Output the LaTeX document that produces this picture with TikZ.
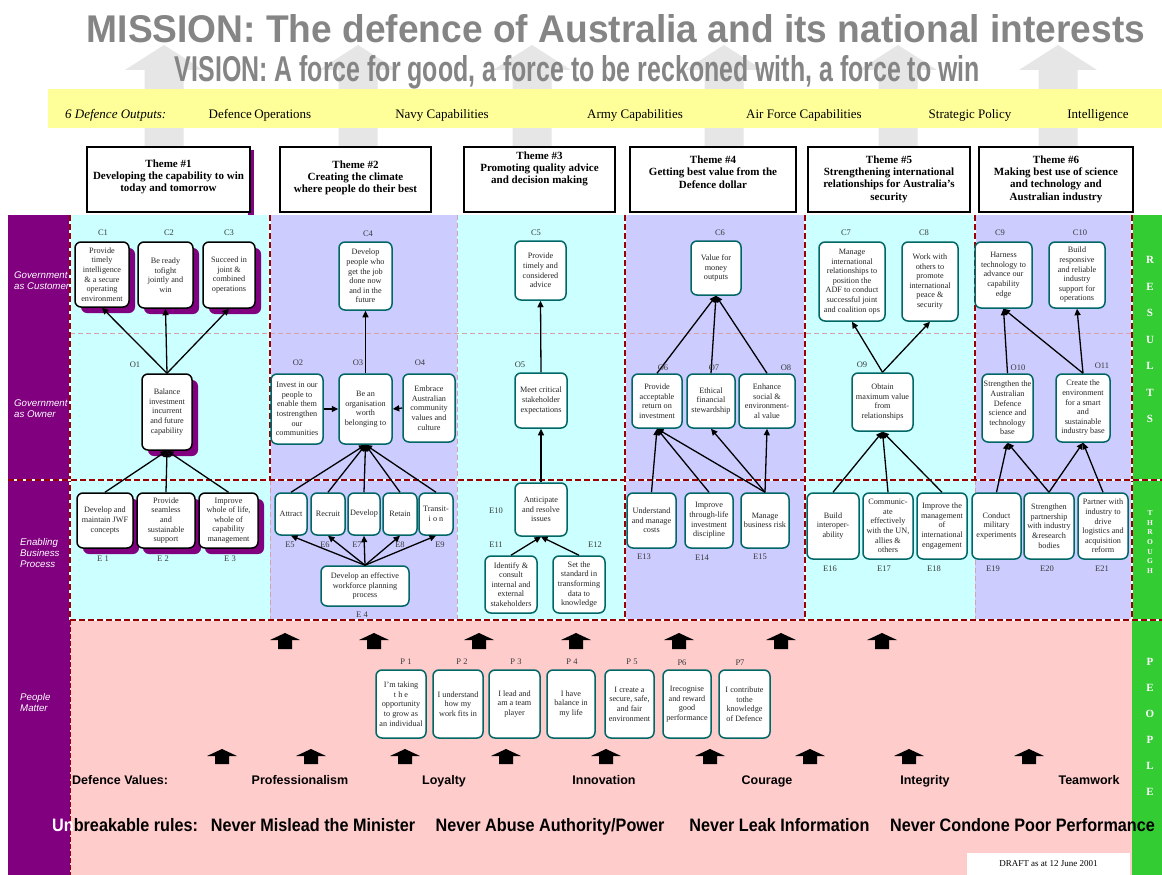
\documentclass[tikz,border=0pt]{standalone}
\usepackage{fontspec}
\setmainfont{Liberation Serif}
\newfontfamily\arialf{Liberation Sans}
\usetikzlibrary{arrows.meta,shadows}

\definecolor{defpurple}{HTML}{800080}
\definecolor{defgreen}{HTML}{33CC33}
\definecolor{colcyan}{HTML}{CCFFFF}
\definecolor{collav}{HTML}{CCCCFF}
\definecolor{pinkbg}{HTML}{FFCCCC}
\definecolor{bandyellow}{HTML}{FFFF99}
\definecolor{boxteal}{HTML}{006666}
\definecolor{dashred}{HTML}{990000}
\definecolor{thinpink}{HTML}{D9A0AA}
\definecolor{hdrarrow}{HTML}{E6E6E6}
\definecolor{hdrtext}{HTML}{858585}
\definecolor{boxtext}{HTML}{262626}
\definecolor{lbltext}{HTML}{3A3A3A}

\newcommand\boxfont{\fontsize{8.2}{9.6}\selectfont}
\newcommand\lblfont{\fontsize{8.5}{10}\selectfont}
\newcommand\themefont{\fontsize{11}{12.3}\selectfont\bfseries}
\newcommand\sidefont{\arialf\itshape\fontsize{9.7}{11}\selectfont}
\newcommand\rulefont{\arialf\bfseries\fontsize{18}{20}\selectfont}
\newcommand\valfont{\arialf\bfseries\fontsize{12.5}{14}\selectfont}

% box: name, centre x, centre y, width, height, text
\newcommand\bx[7][box]{\node[#1,minimum width=#5pt,minimum height=#6pt] (#2) at (#3,#4) {#7};}

\tikzset{
  box/.style={draw=boxteal, line width=1.5pt, fill=white, rounded corners=6pt,
    inner sep=0.5pt, align=center, font=\boxfont, text=boxtext},
  shbox/.style={box, draw=black,
    drop shadow={shadow xshift=6pt, shadow yshift=-6pt, opacity=1, fill=defpurple}},
  lbl/.style={font=\lblfont, text=lbltext, inner sep=0pt},
  conn/.style={line width=1.3pt, -{Triangle[length=6.5pt,width=6pt]}},
  themebox/.style={draw=black, line width=1.3pt, fill=white},
  themetxt/.style={font=\themefont, align=center, inner sep=0pt},
  thickdash/.style={dashred, line width=2.2pt, dash pattern=on 6pt off 3pt},
  whiteline/.style={white, line width=2.2pt},
  thindash/.style={thinpink, line width=0.6pt, dash pattern=on 5pt off 3pt},
  sidelbl/.style={font=\sidefont, text=white, align=left, anchor=west, inner sep=0pt},
  sideletter/.style={font=\bfseries\fontsize{11}{12}\selectfont, text=white, inner sep=0pt},
  outtxt/.style={font=\fontsize{13}{15}\selectfont, inner sep=0pt, anchor=base},
  valtxt/.style={font=\valfont, inner sep=0pt, anchor=base},
  ruletxt/.style={font=\rulefont, inner sep=0pt, anchor=base}
}

\begin{document}
\begin{tikzpicture}[x=1pt,y=-1pt]
\useasboundingbox (0,0) rectangle (1162,875);
\fill[white] (0,0) rectangle (1162,875);

% ---------- header: grey up-arrows, mission, vision, outputs band
\foreach \c in {164,358,532,724,898,1058}
  \fill[hdrarrow] (\c-19.5,147) -- (\c-19.5,70) -- (\c-39,70) -- (\c,45)
     -- (\c+39,70) -- (\c+19.5,70) -- (\c+19.5,147) -- cycle;

\node[anchor=base, inner sep=0pt, text=hdrtext, font=\arialf\bfseries] (mission) at (616,43)
  {\resizebox{1058pt}{28pt}{MISSION: The defence of Australia and its national interests}};
\node[anchor=base, inner sep=0pt, text=hdrtext, font=\arialf\bfseries] (vision) at (577.5,82)
  {\resizebox{805pt}{26pt}{VISION: A force for good, a force to be reckoned with, a force to win}};

\fill[bandyellow] (48,89) rectangle (1162,128);
\node[outtxt, anchor=base west, font=\itshape\fontsize{13}{15}\selectfont] (outhead) at (65,118) {6 Defence Outputs:};
\node[outtxt] (out1) at (260,118) {Defence\kern-1pt\ Operations};
\node[outtxt] (out2) at (442,118) {Navy Capabilities};
\node[outtxt] (out3) at (635,118) {Army Capabilities};
\node[outtxt] (out4) at (804,118) {Air Force Capabilities};
\node[outtxt] (out5) at (970,118) {Strategic Policy};
\node[outtxt] (out6) at (1098,118) {Intelligence};

% ---------- theme boxes
\fill[defpurple] (248,150) rectangle (254,215);
\node[themebox, minimum width=163pt, minimum height=65pt] (th1) at (168.5,179.5) {};
\node[themebox, minimum width=151pt, minimum height=65pt] (th2) at (355.5,179.5) {};
\node[themebox, minimum width=151pt, minimum height=65pt] (th3) at (539.5,179.5) {};
\node[themebox, minimum width=166pt, minimum height=65pt] (th4) at (713,179.5) {};
\node[themebox, minimum width=162pt, minimum height=65pt] (th5) at (889,179.5) {};
\node[themebox, minimum width=154pt, minimum height=65pt] (th6) at (1056,179.5) {};
\node[themetxt] (th1t) at (168.5,177) {Theme \#1\\Developing the capability to win\\today and tomorrow};
\node[themetxt] (th2t) at (355.5,178) {Theme \#2\\Creating the climate\\where people do their best};
\node[themetxt] (th3t) at (539.5,169) {Theme \#3\\Promoting quality advice\\and decision making};
\node[themetxt] (th4t) at (713,172) {Theme \#4\\Getting best value from the\\Defence dollar};
\node[themetxt] (th5t) at (889,179) {Theme \#5\\Strengthening international\\relationships for Australia's\\security};
\node[themetxt] (th6t) at (1056,179) {Theme \#6\\Making best use of science\\and technology and\\Australian industry};

% ---------- body bands
\fill[colcyan] (70,215) rectangle (270,620);
\fill[collav]  (270,215) rectangle (457,620);
\fill[colcyan] (457,215) rectangle (625,620);
\fill[collav]  (625,215) rectangle (805,620);
\fill[colcyan] (805,215) rectangle (975,620);
\fill[collav]  (975,215) rectangle (1132,620);
\fill[pinkbg]  (70,620) rectangle (1132,875);
\fill[defpurple] (8,215) rectangle (70,875);
\fill[defgreen] (1132,215) rectangle (1162,875);

% row titles
\node[sidelbl] (gcust) at (14,281) {Government\\as Customer};
\node[sidelbl] (gown) at (14,409) {Government\\as Owner};
\node[sidelbl] (ebp) at (20,553) {Enabling\\Business\\Process};
\node[sidelbl] (pmat) at (20,703) {People\\Matter};

% side letters
\foreach \l [count=\i] in {R,E,S,U,L,T,S}
  \node[sideletter] (res\i) at (1150,260+26.5*\i-26.5) {\l};
\foreach \l [count=\i] in {T,H,R,O,U,G,H}
  \node[sideletter, font=\bfseries\fontsize{7.5}{8}\selectfont] (thr\i) at (1150,513+9.7*\i-9.7) {\l};
\foreach \l [count=\i] in {P,E,O,P,L,E}
  \node[sideletter] (ppl\i) at (1150,662+26*\i-26) {\l};

% grid lines
\draw[thindash] (70,333) -- (1132,333);
\draw[thindash] (270,480) -- (270,620);
\draw[thindash] (457,215) -- (457,620);
\draw[thindash] (975,480) -- (975,620);
\draw[dashred, line width=0.8pt, dash pattern=on 5pt off 2pt] (70,620) -- (70,875);
\foreach \x/\ya/\yb in {70/215/620, 270/215/480, 625/215/620, 805/215/620, 975/215/480, 1132/215/620}{
  \draw[whiteline] (\x,\ya) -- (\x,\yb);
  \draw[thickdash] (\x,\ya) -- (\x,\yb);
}
\draw[whiteline] (8,480) -- (1162,480);
\draw[thickdash] (8,480) -- (1162,480);
\draw[whiteline] (70,620) -- (1162,620);
\draw[thickdash] (70,620) -- (1162,620);

% ---------- theme 1
\bx[shbox]{C1}{102}{274.5}{54}{65}{Provide\\timely\\intelligence\\\& a secure\\operating\\environment}
\bx[shbox]{C2}{165.5}{275}{55}{66}{Be ready\\tofight\\jointly and\\win}
\bx[shbox]{C3}{229}{275}{52}{66}{Succeed in\\joint \&\\combined\\operations}
\bx[shbox]{O1}{167}{412}{50}{76}{Balance\\investment\\incurrent\\and future\\capability}
\bx[shbox]{E1}{105}{520.5}{56}{55}{Develop and\\maintain JWF\\concepts}
\bx[shbox]{E2}{166}{520.5}{58}{55}{Provide\\seamless\\and\\sustainable\\support}
\bx[shbox]{E3}{228.5}{520.5}{59}{55}{Improve\\whole of life,\\whole of\\capability\\management}

% ---------- theme 2
\bx{C4}{365.5}{276}{53}{68}{Develop\\people who\\get the job\\done now\\and in the\\future}
\bx{O2}{297}{409}{52}{70}{Invest in our\\people to\\enable them\\tostrengthen\\our\\communities}
\bx{O3}{365.5}{409}{53}{70}{Be an\\organisation\\worth\\belonging to}
\bx{O4}{429}{408}{52}{68}{Embrace\\Australian\\community\\values and\\culture}
\bx{E5}{291}{514}{32}{42}{Attract}
\bx{E6}{328}{514}{34}{42}{Recruit}
\bx{E7}{364}{514}{32}{42}{Develop}
\bx{E8}{400}{514}{34}{42}{Retain}
\bx{E9}{436}{514}{34}{42}{Transit-\\i o n}
\bx{E4}{365}{586}{88}{40}{Develop an effective\\workforce planning\\process}

% ---------- theme 3
\bx{C5}{540.5}{270.5}{51}{59}{Provide\\timely and\\considered\\advice}
\bx{O5}{541}{400.5}{52}{55}{Meet critical\\stakeholder\\expectations}
\bx{E10}{541}{509.5}{52}{53}{Anticipate\\and resolve\\issues}
\bx{E11}{511}{584.5}{52}{57}{Identify \&\\consult\\internal and\\external\\stakeholders}
\bx{E12}{579}{584.5}{52}{57}{Set the\\standard in\\transforming\\data to\\knowledge}

% ---------- theme 4
\bx{C6}{716}{268}{50}{54}{Value for\\money\\outputs}
\bx{O6}{657}{401}{50}{54}{Provide\\acceptable\\return on\\investment}
\bx{O7}{711}{401}{48}{54}{Ethical\\financial\\stewardship}
\bx{O8}{767}{401}{56}{54}{Enhance\\social \&\\environment-\\al value}
\bx{E13}{651.5}{520.5}{49}{55}{Understand\\and manage\\costs}
\bx{E14}{709}{520.5}{48}{55}{Improve\\through-life\\investment\\discipline}
\bx{E15}{765}{520.5}{48}{55}{Manage\\business risk}

% ---------- theme 5
\bx{C7}{852}{281.5}{66}{79}{Manage\\international\\relationships to\\position the\\ADF to conduct\\successful joint\\and coalition ops}
\bx{C8}{930}{281.5}{56}{79}{Work with\\others to\\promote\\international\\peace \&\\security}
\bx{O9}{882.5}{402}{61}{58}{Obtain\\maximum value\\from\\relationships}
\bx{E16}{833}{526}{52}{66}{Build\\interoper-\\ability}
\bx{E17}{888}{526}{50}{66}{Communic-\\ate\\effectively\\with the UN,\\allies \&\\others}
\bx{E18}{942}{526}{50}{66}{Improve the\\management\\of\\international\\engagement}

% ---------- theme 6
\bx{C9}{1003.5}{275}{57}{66}{Harness\\technology to\\advance our\\capability\\edge}
\bx{C10}{1077}{275}{56}{66}{Build\\responsive\\and reliable\\industry\\support for\\operations}
\bx{O10}{1007.5}{408}{51}{68}{Strengthen the\\Australian\\Defence\\science and\\technology\\base}
\bx{O11}{1083}{408}{54}{68}{Create the\\environment\\for a smart\\and\\sustainable\\industry base}
\bx{E19}{996.5}{526}{49}{66}{Conduct\\military\\experiments}
\bx{E20}{1049}{526}{50}{66}{Strengthen\\partnership\\with industry\\\&research\\bodies}
\bx{E21}{1103}{526}{50}{66}{Partner with\\industry to\\drive\\logistics and\\acquisition\\reform}

% ---------- people boxes
\bx{P1}{401}{704}{50}{68}{I'm taking\\t h e\\opportunity\\to grow as\\an individual}
\bx{P2}{458}{704}{50}{68}{I understand\\how my\\work fits in}
\bx{P3}{514.5}{704}{51}{68}{I lead and\\am a team\\player}
\bx{P4}{571}{704}{48}{68}{I have\\balance in\\my life}
\bx{P5}{629.5}{704}{49}{68}{I create a\\secure, safe,\\and fair\\environment}
\bx{P6}{687}{704}{48}{68}{Irecognise\\and reward\\good\\performance}
\bx{P7}{744.5}{704}{51}{68}{I contribute\\tothe\\knowledge\\of Defence}

% ---------- connectors
\foreach \c in {C1,C2,C3} \draw[conn] (O1.north) -- (\c.south);
\foreach \e in {E1,E2,E3} \draw[conn] (\e.north) -- (O1.south);
\draw[conn] (O2.east) -- (O3.west);
\draw[conn] (O4.west) -- (O3.east);
\draw[conn] (O3.north) -- (C4.south);
\foreach \e in {E5,E6,E7,E8,E9} {
  \draw[conn] (\e.north) -- (O3.south);
  \draw[conn] (E4.north) -- (\e.south);
}
\draw[conn] (O5.north) -- (C5.south);
\draw[conn] (E10.north) -- (O5.south);
\draw[conn] (E11.north) -- (E10.south);
\draw[conn] (E12.north) -- (E10.south);
\foreach \o in {O6,O7,O8} \draw[conn] (\o.north) -- (C6.south);
\draw[conn] (E13.north) -- (O6.south);
\draw[conn] (E14.north) -- (O6.south);
\foreach \o in {O6,O7,O8} \draw[conn] (E15.north) -- (\o.south);
\draw[conn] (O9.north) -- (C7.south);
\draw[conn] (O9.north) -- (C8.south);
\foreach \e in {E16,E17,E18} \draw[conn] (\e.north) -- (O9.south);
\draw[conn] (O10.north) -- (C9.south);
\draw[conn] (O11.north) -- (C9.south);
\draw[conn] (O11.north) -- (C10.south);
\draw[conn] (E19.north) -- (O10.south);
\draw[conn] (E20.north) -- (O10.south);
\draw[conn] (E20.north) -- (O11.south);
\draw[conn] (E21.north) -- (O11.south);

% ---------- box labels
\foreach \t/\x/\y [count=\i] in {
  C1/103/233, C2/169/233, C3/229/233, O1/135/365, E 1/103/559, E 2/163/559, E 3/230/559,
  C4/368/234, O2/298/363, O3/358/363, O4/420/363, E5/290/545, E6/325/545, E7/357/545,
  E8/400/545, E9/440/545, E 4/362/615, C5/536/233, O5/520/365, E10/496/511, E11/496/545,
  E12/595/545, C6/720/233, O6/663/368, O7/714/368, O8/786/368, E13/644/557, E14/702/558,
  E15/760/557, C7/846/233, C8/924/233, O9/862/365, E16/830/569, E17/884/569, E18/934/569,
  C9/1000/233, C10/1080/233, O10/1018/368, O11/1102/366, E19/993/569, E20/1047/569,
  E21/1102/569, P 1/406/662, P 2/462/662, P 3/516/662, P 4/572/662, P 5/632/662,
  P6/682/663, P7/740/663}
  \node[lbl] (lab\i) at (\x,\y) {\t};

% ---------- black up-arrows in the people band
\foreach \x in {285,374,479,576,679,781,882}
  \fill (\x-15,640) -- (\x,633) -- (\x+15,640) -- (\x+7,640) -- (\x+7,649) -- (\x-7,649) -- (\x-7,640) -- cycle;
\foreach \x in {222,311,405,506,606,710,810,909,1029}
  \fill (\x-15,756) -- (\x,749) -- (\x+15,756) -- (\x+7,756) -- (\x+7,764) -- (\x-7,764) -- (\x-7,756) -- cycle;

% ---------- values and rules
\node[valtxt, anchor=base west] (valhead) at (72,784) {Defence Values:};
\node[valtxt] (v1) at (300,784) {Professionalism};
\node[valtxt] (v2) at (444,784) {Loyalty};
\node[valtxt] (v3) at (604,784) {Innovation};
\node[valtxt] (v4) at (767,784) {Courage};
\node[valtxt] (v5) at (925,784) {Integrity};
\node[valtxt] (v6) at (1089,784) {Teamwork};

\node[ruletxt, anchor=base west] (rulehead) at (52,831) {\scalebox{0.9}[1]{\textcolor{white}{Un}breakable rules:}};
\node[ruletxt] (r1) at (313,831) {\scalebox{0.9}[1]{Never Mislead the Minister}};
\node[ruletxt] (r2) at (550,831) {\scalebox{0.9}[1]{Never Abuse Authority/Power}};
\node[ruletxt] (r3) at (779.5,831) {\scalebox{0.9}[1]{Never Leak Information}};
\node[ruletxt] (r4) at (1022.5,831) {\scalebox{0.9}[1]{Never Condone Poor Performance}};

\node[fill=white, minimum width=163pt, minimum height=22pt, inner sep=0pt,
  font=\fontsize{9}{10}\selectfont] (draft) at (1048.5,864) {DRAFT as at 12 June 2001};
\end{tikzpicture}
\end{document}
